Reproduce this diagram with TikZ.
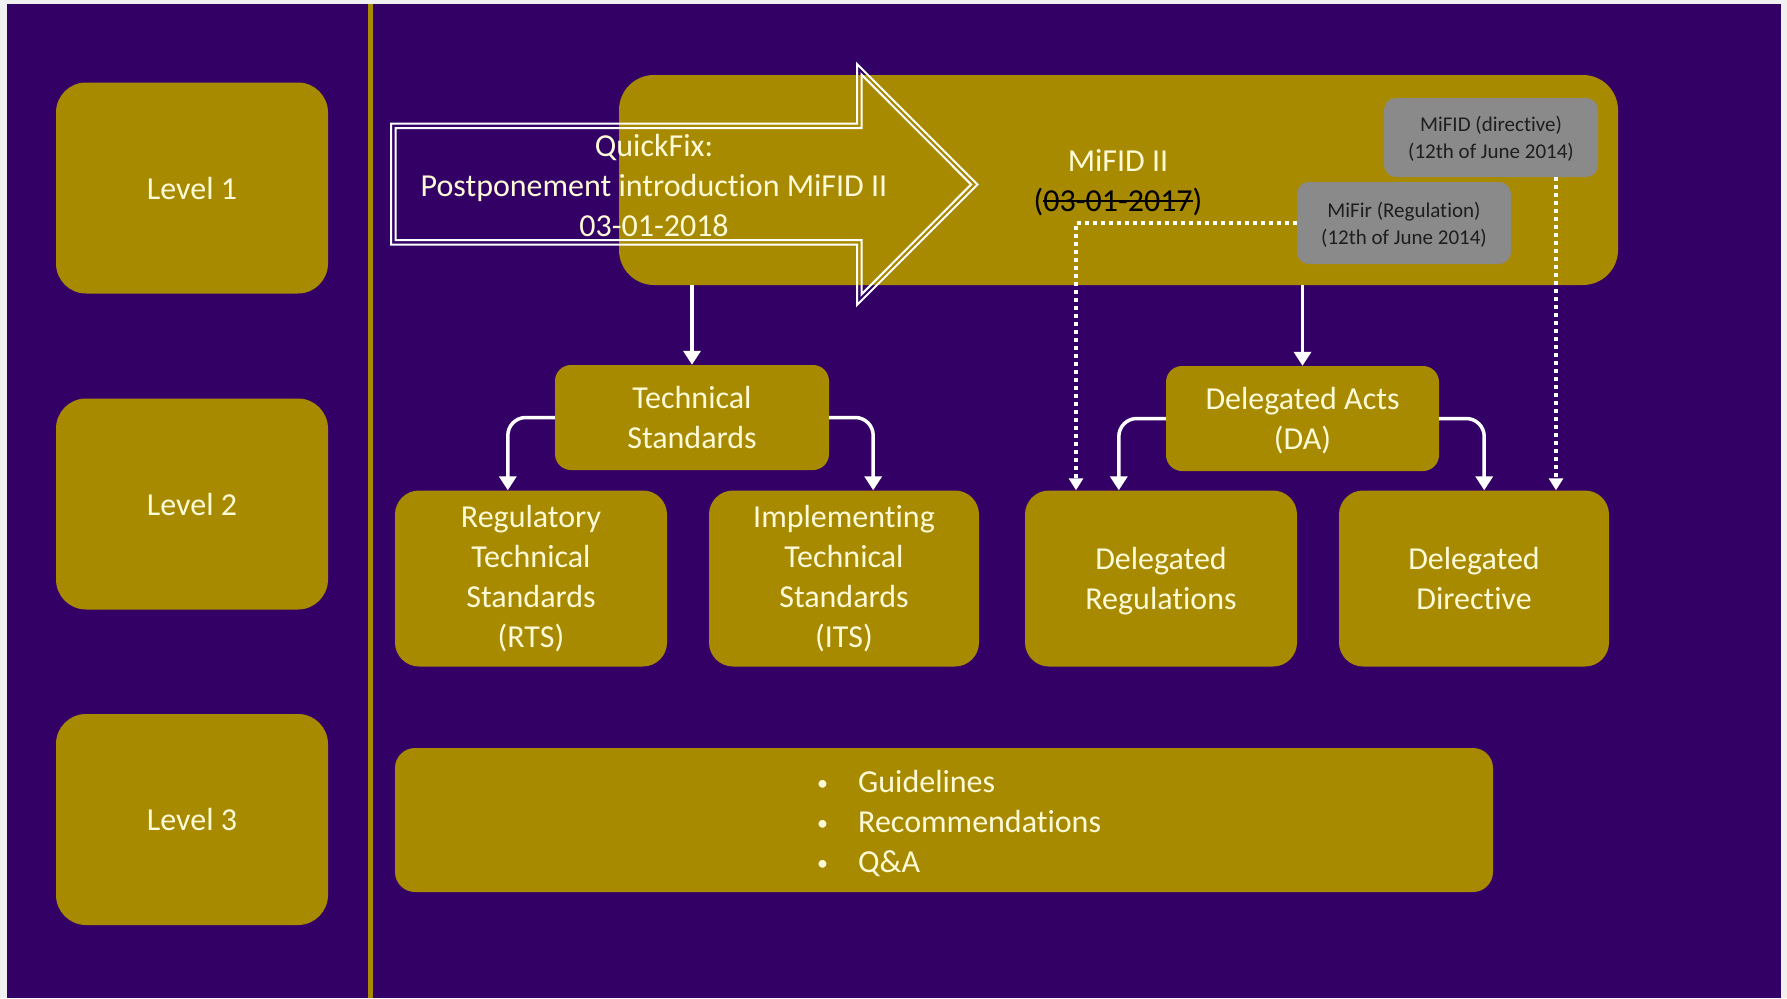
\documentclass[tikz,border=0pt]{standalone}
\usepackage{fontspec}
\setmainfont{Carlito}[Ligatures=NoCommon]
\newcommand\mystrike[1]{\setbox0\hbox{#1}\rlap{\rule[0.30em]{\wd0}{2pt}}\box0}
\newcommand\mybul{\makebox[41pt][l]{\fontsize{22}{40}\selectfont\raisebox{2pt}{•}}}
\newcommand\nodepth[1]{\raisebox{0pt}[\height][0pt]{#1}}
\usetikzlibrary{arrows.meta,calc}
\definecolor{bgpurple}{RGB}{51,0,102}
\definecolor{gold}{RGB}{168,138,0}
\definecolor{cream}{RGB}{255,250,215}
\definecolor{greybox}{RGB}{138,138,138}
\definecolor{greytext}{RGB}{30,30,30}
\definecolor{framegrey}{RGB}{240,240,240}
\begin{document}
\begin{tikzpicture}[x=1pt,y=-1pt,
  bigfont/.style={font=\fontsize{32}{40}\selectfont},
  goldbox/.style={fill=gold, text=cream, align=center, bigfont, inner sep=0pt},
  levelbox/.style={goldbox, minimum width=272pt, minimum height=211pt, rounded corners=30pt},
  subbox/.style={goldbox, minimum width=272pt, minimum height=176pt, rounded corners=24pt},
  midbox/.style={goldbox, minimum width=274pt, minimum height=105pt, rounded corners=16pt},
  greyb/.style={fill=greybox, text=greytext, align=center, font=\fontsize{21}{27}\selectfont, minimum width=214pt, rounded corners=12pt, inner sep=0pt},
  arr/.style={draw=white, line width=3.5pt, -{Triangle[width=17pt,length=14pt]}},
  elbow/.style={arr, rounded corners=18pt},
  dots/.style={draw=white, line width=3.5pt, dash pattern=on 4pt off 4pt, -{Triangle[width=14pt,length=12pt]}},
  outline/.style={draw=white, line width=2pt, line join=miter}
]
\useasboundingbox (0,0) rectangle (1787,998);
\fill[framegrey] (0,0) rectangle (1787,998);
\fill[bgpurple] (7,4) rectangle (1781,998);
\fill[gold] (368,4) rectangle (373,998);

% level column
\node[levelbox] (l1) at (192,188) {Level 1};
\node[levelbox] (l2) at (192,504) {Level 2};
\node[levelbox] (l3) at (192,819.5) {Level 3};

% MiFID II box
\node[fill=gold, rounded corners=35pt, minimum width=999pt, minimum height=210pt, inner sep=0pt] (mifid) at (1118.5,180) {};

% QuickFix arrow (double outline)
\draw[outline] (391,123.5) -- (857,123.5) -- (857,64) -- (977.5,184.5) -- (857,305) -- (857,244.5) -- (391,244.5) -- cycle;
\draw[outline] (395.5,128) -- (861.5,128) -- (861.5,74.6) -- (971.1,184.5) -- (861.5,294.4) -- (861.5,240) -- (395.5,240) -- cycle;
\node[text=cream, align=center, bigfont, inner sep=0pt] (qf) at (654,186) {QuickFix:\\Postponement introduction MiFID II\\03-01-2018};

\node[text=cream, align=center, bigfont, inner sep=0pt] (mifidtxt) at (1118,183) {MiFID II\\{\color{black}(\mystrike{03-01-2017})}};

% grey boxes
\node[greyb, minimum height=79pt] (mfd) at (1491,137.5) {MiFID (directive)\\\nodepth{(12th of June 2014)}};
\node[greyb, minimum height=82pt] (mfr) at (1404,223) {MiFir (Regulation)\\\nodepth{(12th of June 2014)}};

% level 2 middle boxes
\node[midbox] (ts) at (692,417.5) {Technical\\Standards};
\node[midbox, minimum width=273pt] (da) at (1302.5,418.5) {Delegated Acts\\\nodepth{(DA)}};

% level 2 bottom boxes
\node[subbox] (rts) at (531,578.5) {Regulatory\\Technical\\Standards\\(RTS)};
\node[subbox, minimum width=270pt] (its) at (844,578.5) {Implementing\\Technical\\Standards\\(ITS)};
\node[subbox] (dreg) at (1161,578.5) {Delegated\\\nodepth{Regulations}};
\node[subbox, minimum width=270pt] (ddir) at (1474,578.5) {Delegated\\Directive};

% level 3 box
\node[goldbox, minimum width=1098pt, minimum height=144pt, rounded corners=20pt] (l3box) at (944,820) {};
\node[text=cream, bigfont, anchor=west, align=left, inner sep=0pt] (l3list) at (817,823.5) {%
  \mybul Guidelines\\
  \mybul Recommendations\\
  \mybul Q\&A};

% connectors
\draw[arr] (ts.north |- mifid.south) -- (ts.north);
\draw[arr] (da.north |- mifid.south) -- (da.north);

\coordinate (tsL) at ($(ts.west)+(-47,0)$);
\coordinate (tsR) at ($(ts.east)+(44,0)$);
\coordinate (daL) at ($(da.west)+(-47,0)$);
\coordinate (daR) at ($(da.east)+(45,0)$);
\draw[elbow] (ts.west) -| (tsL |- rts.north);
\draw[elbow] (ts.east) -| (tsR |- its.north);
\draw[elbow] (da.west) -| (daL |- dreg.north);
\draw[elbow] (da.east) -| (daR |- ddir.north);

\coordinate (dotc) at (1076,223);
\draw[dots] (mfr.west) -- (dotc) -- (dotc |- dreg.north);
\draw[dots] (1556,177) coordinate (mfdb) -- (mfdb |- ddir.north);
\end{tikzpicture}
\end{document}
